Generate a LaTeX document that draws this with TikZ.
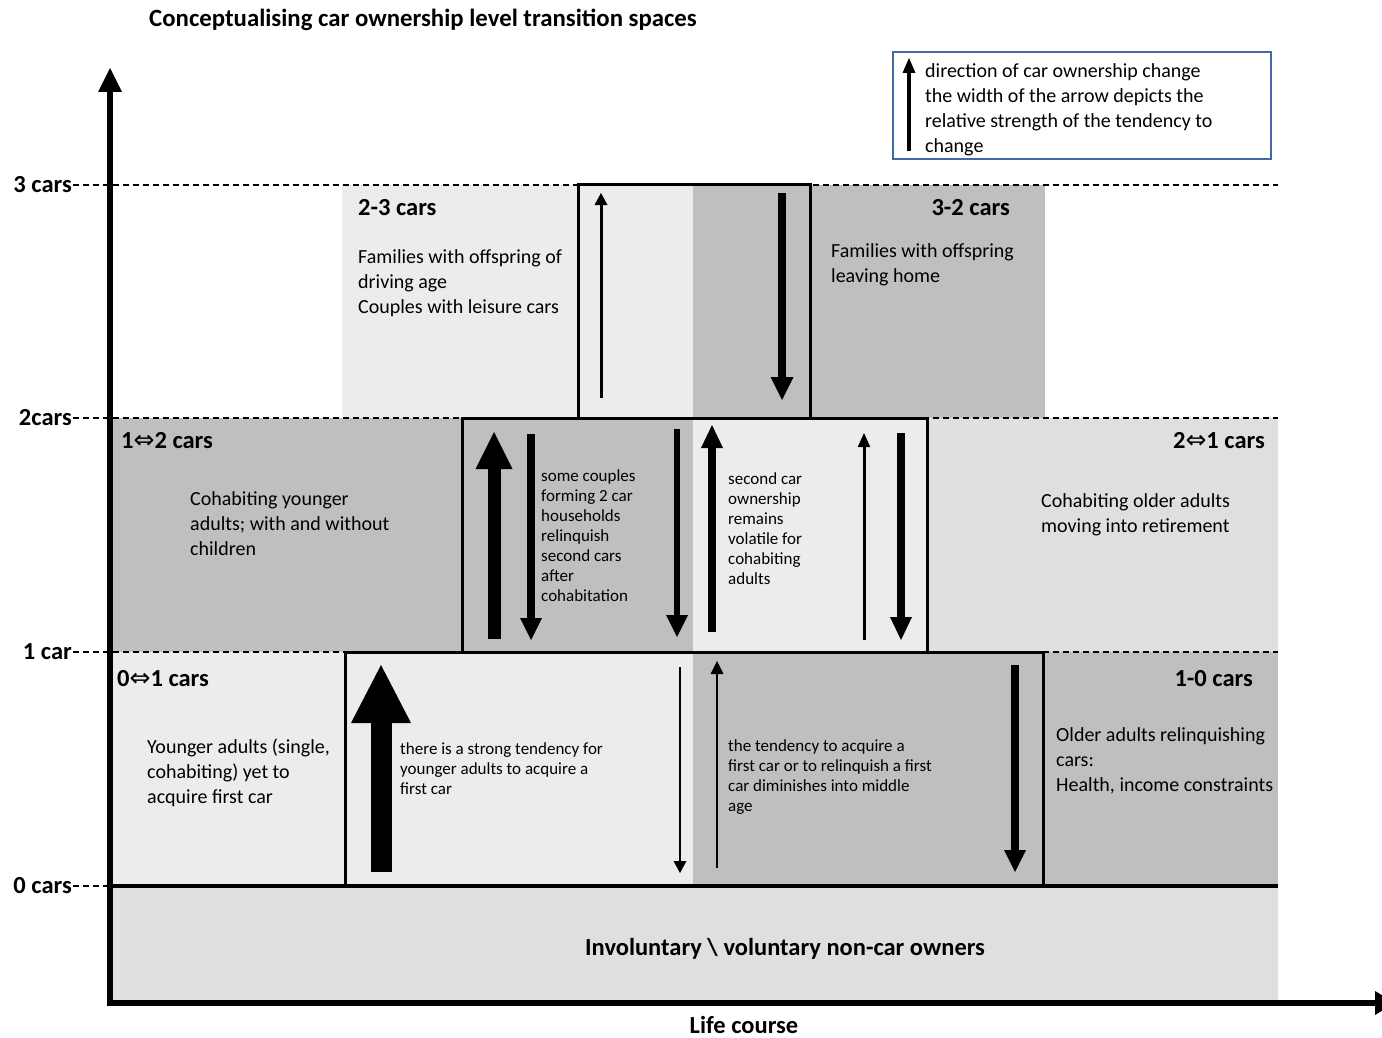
\documentclass[tikz,border=0pt]{standalone}
\usepackage{fontspec}
\setmainfont{Carlito}
\newfontfamily\symfont{DejaVu Sans}
\usetikzlibrary{arrows.meta}
\definecolor{paleband}{RGB}{236,236,236}
\definecolor{midband}{RGB}{223,223,223}
\definecolor{darkband}{RGB}{191,191,191}
\definecolor{legendblue}{RGB}{65,105,170}
\newcommand{\swap}{{\symfont\fontsize{25}{29}\selectfont\mdseries ⇔}}

\begin{document}
\begin{tikzpicture}[x=1pt, y=-1pt,
    tag/.style={font=\fontsize{24.5}{29}\selectfont\bfseries, inner sep=0pt},
    desc/.style={font=\fontsize{20}{25}\selectfont, align=left, anchor=north west, inner sep=0pt},
    note/.style={font=\fontsize{17}{20}\selectfont, align=left, anchor=north west, inner sep=0pt},
    boxline/.style={line width=3pt},
    gridline/.style={line width=1.2pt, dash pattern=on 6pt off 4pt}]

    \useasboundingbox (0,0) rectangle (1382,1038);
    \fill[white] (0,0) rectangle (1382,1038);

    % Bands
    \fill[midband] (110,886) rectangle (1278,1000);
    \fill[paleband] (110,652) rectangle (693,886);
    \fill[darkband] (693,652) rectangle (1278,886);
    \fill[darkband] (110,418) rectangle (693,652);
    \fill[paleband] (693,418) rectangle (927,652);
    \fill[midband] (927,418) rectangle (1278,652);
    \fill[paleband] (342,185) rectangle (693,418);
    \fill[darkband] (693,185) rectangle (1045,418);

    % Levels
    \foreach \y/\lab [count=\i from 0] in {886/0 cars, 652/1 car, 418/2cars, 185/3 cars} {
        \draw[gridline] (73,\y) -- (1278,\y);
        \node[tag, anchor=east] (lvl\i) at (72,\y) {\lab};
    }
    \draw[line width=4pt] (110,886) -- (1278,886);

    % Steps
    \draw[boxline] (345,886) rectangle (1043,652);
    \draw[boxline] (462,652) rectangle (927,418);
    \draw[boxline] (578,418) rectangle (810,185);

    % Axes
    \draw[line width=6pt, -{Triangle[width=24pt, length=24pt, line width=0pt]}] (110,1006) -- (110,68);
    \draw[line width=6pt, -{Triangle[width=24pt, length=20pt, line width=0pt]}] (107,1003) -- (1395,1003);

    % Tendencies
    \foreach \x/\ya/\yb/\w/\hw/\hl in {381/872/665/21/60/58, 680/667/873/2.5/13/12,
        717/868/661/2.5/13/13, 1015/665/872/8/22/22, 494/639/432/13/37/37,
        531/434/640/8/22/22, 677/429/637/6.5/22/22, 712/632/425/8/22/23,
        864/640/433/3/12.5/14, 901/433/640/8/22/23, 601/398/193/3/13/12,
        782/193/400/8/23/23, 909/151/58/4/13/15} {
        \draw[line width=\w pt, -{Triangle[width=\hw pt, length=\hl pt, line width=0pt]}] (\x,\ya) -- (\x,\yb);
    }

    % Legend
    \draw[legendblue, line width=1.5pt] (893,52) rectangle (1271,159);
    \node[desc] (key) at (925,63) {direction of car ownership change\\the width of the arrow depicts the\\relative strength of the tendency to\\change};

    % Texts
    \node[font=\fontsize{24.8}{29}\selectfont\bfseries] (title) at (423,20) {Conceptualising car ownership level transition spaces};
    \node[tag, anchor=base west] (tag23) at (358,215) {2-3 cars};
    \node[tag, anchor=base east] (tag32) at (1010,215) {3-2 cars};
    \node[desc] (txt23) at (358,249) {Families with offspring of\\driving age\\Couples with leisure cars};
    \node[desc] (txt32) at (831,243) {Families with offspring\\leaving home};
    \node[tag, anchor=base west] (tag12) at (121,448) {1\swap 2 cars};
    \node[tag, anchor=base east] (tag21) at (1265,448) {2\swap 1 cars};
    \node[desc] (txt12) at (190,491) {Cohabiting younger\\adults; with and without\\children};
    \node[note] (note12) at (541,469) {some couples\\forming 2 car\\households\\relinquish\\second cars\\after\\cohabitation};
    \node[note] (note21) at (728,472) {second car\\ownership\\remains\\volatile for\\cohabiting\\adults};
    \node[desc] (txt21) at (1041,493) {Cohabiting older adults\\moving into retirement};
    \node[tag, anchor=base west] (tag01) at (117,686) {0\swap 1 cars};
    \node[tag, anchor=base east] (tag10) at (1253,686) {1-0 cars};
    \node[desc] (txt01) at (147,739) {Younger adults (single,\\cohabiting) yet to\\acquire first car};
    \node[note] (note01) at (400,742) {there is a strong tendency for\\younger adults to acquire a\\first car};
    \node[note] (note10) at (728,739) {the tendency to acquire a\\first car or to relinquish a first\\car diminishes into middle\\age};
    \node[desc] (txt10) at (1056,727) {Older adults relinquishing\\cars:\\Health, income constraints};
    \node[tag] (owners) at (785,949) {Involuntary \textbackslash\ voluntary non-car owners};
    \node[tag] (lifecourse) at (744,1025) {Life course};
\end{tikzpicture}
\end{document}
